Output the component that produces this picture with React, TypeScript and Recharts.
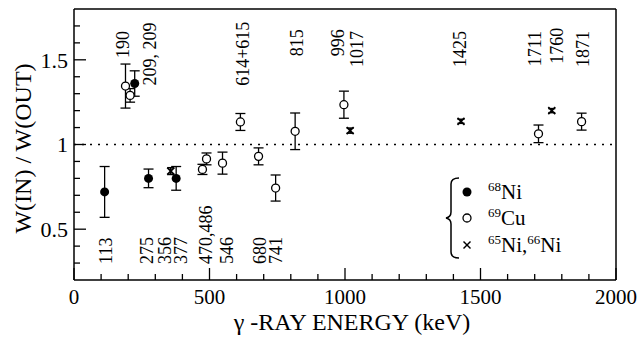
import React from 'react';
import { ScatterChart, Scatter, XAxis, YAxis, ErrorBar, ReferenceLine, Legend } from 'recharts';

// 68Ni points (filled circles)
const ni68 = [
  { e: 113, w: 0.72, err: 0.15 },
  { e: 224, w: 1.36, err: 0.075 },
  { e: 275, w: 0.8, err: 0.055 },
  { e: 377, w: 0.8, err: 0.07 },
];

// 69Cu points (open circles)
const cu69 = [
  { e: 190, w: 1.345, err: 0.13 },
  { e: 207, w: 1.29, err: 0.04 },
  { e: 474, w: 0.853, err: 0.03 },
  { e: 489, w: 0.915, err: 0.035 },
  { e: 548, w: 0.89, err: 0.065 },
  { e: 614, w: 1.133, err: 0.05 },
  { e: 681, w: 0.93, err: 0.05 },
  { e: 744, w: 0.743, err: 0.077 },
  { e: 816, w: 1.078, err: 0.108 },
  { e: 996, w: 1.235, err: 0.08 },
  { e: 1714, w: 1.063, err: 0.052 },
  { e: 1873, w: 1.135, err: 0.05 },
];

// 65Ni, 66Ni points (crosses)
const ni6566 = [
  { e: 357, w: 0.843, err: 0.02 },
  { e: 1019, w: 1.082, err: 0.015 },
  { e: 1428, w: 1.137, err: 0.012 },
  { e: 1763, w: 1.2, err: 0.012 },
];

// energy labels written on the plot
const upperLabels = [
  { e: 181, w: 1.67, text: '190' },
  { e: 280, w: 1.72, text: '209, 209' },
  { e: 623, w: 1.725, text: '614+615' },
  { e: 823, w: 1.68, text: '815' },
  { e: 974, w: 1.68, text: '996' },
  { e: 1044, w: 1.67, text: '1017' },
  { e: 1424, w: 1.67, text: '1425' },
  { e: 1701, w: 1.67, text: '1711' },
  { e: 1782, w: 1.69, text: '1760' },
  { e: 1878, w: 1.67, text: '1871' },
];
const lowerLabels = [
  { e: 117, w: 0.295, text: '113' },
  { e: 268, w: 0.295, text: '275' },
  { e: 336, w: 0.295, text: '356' },
  { e: 394, w: 0.295, text: '377' },
  { e: 486, w: 0.295, text: '470,486' },
  { e: 563, w: 0.295, text: '546' },
  { e: 686, w: 0.295, text: '680' },
  { e: 744, w: 0.295, text: '741' },
];

const xMajor = [0, 500, 1000, 1500, 2000];
const xTicks = [0, 100, 200, 300, 400, 500, 600, 700, 800, 900, 1000, 1100, 1200, 1300, 1400, 1500, 1600, 1700, 1800, 1900, 2000];
const yMajor = [0.5, 1, 1.5];
const yTicks = [0.3, 0.4, 0.5, 0.6, 0.7, 0.8, 0.9, 1, 1.1, 1.2, 1.3, 1.4, 1.5, 1.6, 1.7];

const FONT = "'Liberation Serif', 'Times New Roman', Times, serif";
const txt = { fontFamily: FONT };
const isMajor = (v: number, list: number[]) => list.some((m) => Math.abs(m - v) < 1e-6);

const bottomTick = (p: any) => {
  const major = isMajor(p.payload.value, xMajor);
  return (
    <g>
      <line x1={p.x} x2={p.x} y1={p.y} y2={p.y - (major ? 12 : 6)} stroke="#000" strokeWidth={1.3} />
      {major && (
        <text x={p.x} y={p.y + 24} textAnchor="middle" fontSize={21} style={txt} fill="#000">
          {p.payload.value}
        </text>
      )}
    </g>
  );
};
const topTick = (p: any) => {
  const major = isMajor(p.payload.value, xMajor);
  return <line x1={p.x} x2={p.x} y1={p.y} y2={p.y + (major ? 12 : 6)} stroke="#000" strokeWidth={1.3} />;
};
const leftTick = (p: any) => {
  const major = isMajor(p.payload.value, yMajor);
  return (
    <g>
      <line x1={p.x} x2={p.x + (major ? 12 : 6)} y1={p.y} y2={p.y} stroke="#000" strokeWidth={1.3} />
      {major && (
        <text x={p.x - 6} y={p.y} dy="0.35em" textAnchor="end" fontSize={22} style={txt} fill="#000">
          {p.payload.value}
        </text>
      )}
    </g>
  );
};
const rightTick = (p: any) => {
  const major = isMajor(p.payload.value, yMajor);
  return <line x1={p.x} x2={p.x - (major ? 12 : 6)} y1={p.y} y2={p.y} stroke="#000" strokeWidth={1.3} />;
};

const FilledDot = (p: any) => <circle cx={p.cx} cy={p.cy} r={4.5} fill="#000" />;
const OpenDot = (p: any) => <circle cx={p.cx} cy={p.cy} r={4} fill="#fff" stroke="#000" strokeWidth={1.3} />;
const Cross = (p: any) => (
  <g stroke="#000" strokeWidth={1.7}>
    <line x1={p.cx - 3.5} y1={p.cy - 3.5} x2={p.cx + 3.5} y2={p.cy + 3.5} />
    <line x1={p.cx - 3.5} y1={p.cy + 3.5} x2={p.cx + 3.5} y2={p.cy - 3.5} />
  </g>
);

const makeLabel = (anchor: 'start' | 'end') => (p: any) => (
  <text
    x={p.cx}
    y={p.cy}
    dy="0.35em"
    transform={`rotate(-90 ${p.cx} ${p.cy})`}
    textAnchor={anchor}
    fontSize={18}
    style={txt}
    fill="#000"
  >
    {p.payload.text}
  </text>
);

const LegendBox = () => (
  <svg width={140} height={92} style={{ fontFamily: FONT, overflow: 'visible' }}>
    <path
      d="M19,6 Q11,6 11,12 L11,40 Q11,45 6,46 Q11,47 11,52 L11,80 Q11,86 19,86"
      fill="none"
      stroke="#000"
      strokeWidth={1.5}
    />
    <circle cx={27} cy={20} r={4.5} fill="#000" />
    <circle cx={27} cy={46} r={4} fill="#fff" stroke="#000" strokeWidth={1.3} />
    <g stroke="#000" strokeWidth={1.4}>
      <line x1={23.5} y1={69.5} x2={30.5} y2={76.5} />
      <line x1={23.5} y1={76.5} x2={30.5} y2={69.5} />
    </g>
    <text x={48} y={27} fontSize={21} fill="#000">
      <tspan fontSize={13} dy={-8}>68</tspan>
      <tspan dy={8}>Ni</tspan>
    </text>
    <text x={48} y={53} fontSize={21} fill="#000">
      <tspan fontSize={13} dy={-8}>69</tspan>
      <tspan dy={8}>Cu</tspan>
    </text>
    <text x={48} y={80} fontSize={21} fill="#000">
      <tspan fontSize={13} dy={-8}>65</tspan>
      <tspan dy={8}>Ni,</tspan>
      <tspan fontSize={13} dy={-8}>66</tspan>
      <tspan dy={8}>Ni</tspan>
    </text>
  </svg>
);

export default function App() {
  return (
    <div style={{ position: 'absolute', left: 0, top: 0, width: 643, height: 339, background: '#fff', fontFamily: FONT }}>
      <ScatterChart width={643} height={339} margin={{ top: 0, right: 0, bottom: 0, left: 0 }} style={{ fontFamily: FONT }}>
        <XAxis
          type="number"
          dataKey="e"
          domain={[0, 2000]}
          ticks={xTicks}
          interval={0}
          height={59}
          tickSize={0}
          tickMargin={0}
          tick={bottomTick}
          axisLine={{ stroke: '#000', strokeWidth: 1.5 }}
          label={{
            content: ({ viewBox }: any) => (
              <text
                x={viewBox.x + viewBox.width / 2 + 7}
                y={viewBox.y + 50}
                textAnchor="middle"
                fontSize={24}
                style={txt}
                fill="#000"
              >
                γ -RAY ENERGY (keV)
              </text>
            ),
          }}
        />
        <XAxis
          xAxisId="top"
          orientation="top"
          type="number"
          dataKey="e"
          domain={[0, 2000]}
          ticks={xTicks}
          interval={0}
          height={9}
          tickSize={0}
          tickMargin={0}
          tick={topTick}
          axisLine={{ stroke: '#000', strokeWidth: 1.5 }}
        />
        <YAxis
          type="number"
          dataKey="w"
          domain={[0.2, 1.8]}
          ticks={yTicks}
          interval={0}
          width={74}
          tickSize={0}
          tickMargin={0}
          tick={leftTick}
          axisLine={{ stroke: '#000', strokeWidth: 1.5 }}
          label={{
            content: ({ viewBox }: any) => {
              const cx = 23;
              const cy = viewBox.y + viewBox.height / 2 + 4;
              return (
                <text
                  x={cx}
                  y={cy}
                  dy="0.35em"
                  transform={`rotate(-90 ${cx} ${cy})`}
                  textAnchor="middle"
                  fontSize={24}
                  style={txt}
                  fill="#000"
                >
                  W(IN) / W(OUT)
                </text>
              );
            },
          }}
        />
        <YAxis
          yAxisId="right"
          orientation="right"
          type="number"
          dataKey="w"
          domain={[0.2, 1.8]}
          ticks={yTicks}
          interval={0}
          width={27}
          tickSize={0}
          tickMargin={0}
          tick={rightTick}
          axisLine={{ stroke: '#000', strokeWidth: 1.5 }}
        />
        <ReferenceLine y={1} stroke="#000" strokeWidth={1.6} strokeDasharray="2 6" />
        <Scatter data={cu69} shape={OpenDot} isAnimationActive={false}>
          <ErrorBar dataKey="err" direction="y" width={5} stroke="#000" strokeWidth={1.3} isAnimationActive={false} />
        </Scatter>
        <Scatter data={ni68} shape={FilledDot} isAnimationActive={false}>
          <ErrorBar dataKey="err" direction="y" width={5} stroke="#000" strokeWidth={1.3} isAnimationActive={false} />
        </Scatter>
        <Scatter data={ni6566} shape={Cross} isAnimationActive={false}>
          <ErrorBar dataKey="err" direction="y" width={3.5} stroke="#000" strokeWidth={1.5} isAnimationActive={false} />
        </Scatter>
        <Scatter data={upperLabels} shape={makeLabel('end')} isAnimationActive={false} />
        <Scatter data={lowerLabels} shape={makeLabel('start')} isAnimationActive={false} />
        <Legend
          layout="vertical"
          align="center"
          verticalAlign="middle"
          content={() => <LegendBox />}
          wrapperStyle={{ position: 'absolute', left: 440, top: 172, width: 140, height: 92 }}
        />
      </ScatterChart>
    </div>
  );
}
